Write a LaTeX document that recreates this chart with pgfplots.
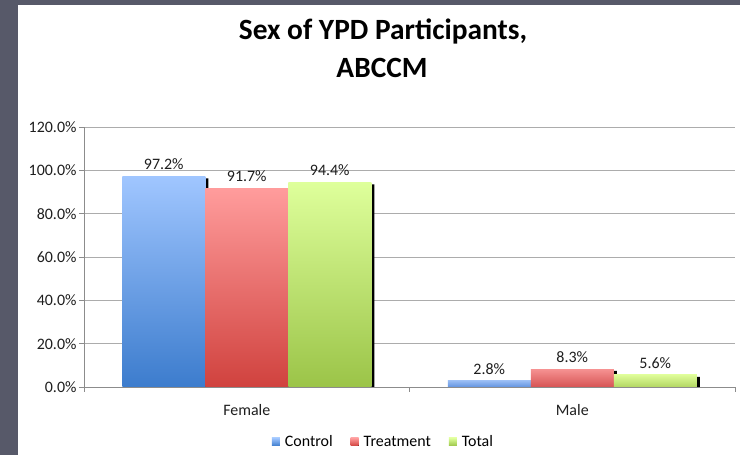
\documentclass[border=0pt]{standalone}
\usepackage{pgfplots}
\pgfplotsset{compat=1.18}
\usepackage{fontspec}
\setmainfont{Carlito}
\definecolor{bg}{RGB}{87,89,105}
\definecolor{bluetop}{RGB}{160,198,255}
\definecolor{bluebot}{RGB}{60,124,205}
\definecolor{redtop}{RGB}{255,156,156}
\definecolor{redbot}{RGB}{208,66,62}
\definecolor{greentop}{RGB}{222,255,155}
\definecolor{greenbot}{RGB}{155,196,72}
\definecolor{mbluetop}{RGB}{150,186,242}
\definecolor{mbluebot}{RGB}{98,148,224}
\definecolor{mredtop}{RGB}{246,146,146}
\definecolor{mredbot}{RGB}{214,84,84}
\definecolor{mgreentop}{RGB}{222,252,152}
\definecolor{mgreenbot}{RGB}{178,214,98}
\definecolor{gridgray}{RGB}{172,172,172}
\definecolor{axisgray}{RGB}{140,140,140}
\definecolor{txt}{RGB}{30,30,30}
\pgfplotsset{
  barlab/.style={nodes near coords={\pgfmathprintnumber[fixed,fixed zerofill,precision=1]{\pgfplotspointmeta}\%},
    every node near coord/.append style={font=\fontsize{16}{18}\selectfont, text=txt, yshift=3bp}},
}
\begin{document}
\begin{tikzpicture}[x=1bp,y=1bp]
\fill[bg] (0,0) rectangle (740,455);
\fill[white] (18,0) rectangle (740,450);
\node[font=\fontsize{29.5}{31}\selectfont\bfseries, anchor=base] at (383,415) {Sex of YPD Participants,};
\node[font=\fontsize{29.5}{31}\selectfont\bfseries, anchor=base] at (382,377) {ABCCM};
\begin{axis}[
  at={(84bp,68bp)}, anchor=south west,
  scale only axis, width=651bp, height=260bp,
  xmin=-0.5, xmax=1.5, ymin=0, ymax=120,
  ytick={0,20,...,120},
  yticklabel={\pgfmathprintnumber[fixed,fixed zerofill,precision=1]{\tick}\%},
  /pgf/number format/assume math mode=true,
  xtick={-0.5,0.5,1.5}, xticklabels={},
  extra x ticks={0,1}, extra x tick labels={Female,Male},
  extra x tick style={major tick length=0pt},
  ymajorgrids, grid style={gridgray, line width=0.8pt},
  axis x line*=bottom, axis y line*=left,
  axis line style={axisgray, line width=0.8pt},
  every tick/.style={axisgray, line width=0.8pt},
  tick align=outside, major tick length=5bp,
  ticklabel style={font=\fontsize{16}{18}\selectfont, text=txt},
  yticklabel style={xshift=1bp},
  xticklabel style={yshift=-14bp},
  ybar, bar width=83bp,
  legend style={at={(0.460,-0.2115)}, anchor=center, draw=none, fill=none,
    legend columns=3, font=\fontsize{16}{18}\selectfont,
    /tikz/every even column/.append style={column sep=16bp}},
  legend image code/.code={\fill[#1] (0bp,-4bp) rectangle (8bp,4bp); \path (0bp,0bp) -- (11bp,0bp);},
]
% shadows
\addplot[fill=black, draw=none, bar width=3bp, bar shift=-40bp, forget plot] coordinates {(0,96.3) (1,1.9)};
\addplot[fill=black, draw=none, bar width=3bp, bar shift=43bp, forget plot] coordinates {(0,90.8) (1,7.4)};
\addplot[fill=black, draw=none, bar width=3bp, bar shift=126bp, forget plot] coordinates {(0,93.5) (1,4.7)};
% Female bars
\addplot[draw=none, top color=bluetop, bottom color=bluebot, bar shift=-83bp, barlab]
  coordinates {(0,97.2)};
\addlegendentry{Control}
\addplot[draw=none, top color=redtop, bottom color=redbot, bar shift=0bp, barlab]
  coordinates {(0,91.7)};
\addlegendentry{Treatment}
\addplot[draw=none, top color=greentop, bottom color=greenbot, bar shift=83bp, barlab]
  coordinates {(0,94.4)};
\addlegendentry{Total}
% Male bars
\addplot[draw=none, top color=mbluetop, bottom color=mbluebot, bar shift=-83bp, barlab, forget plot]
  coordinates {(1,2.8)};
\addplot[draw=none, top color=mredtop, bottom color=mredbot, bar shift=0bp, barlab, forget plot]
  coordinates {(1,8.3)};
\addplot[draw=none, top color=mgreentop, bottom color=mgreenbot, bar shift=83bp, barlab, forget plot]
  coordinates {(1,5.6)};
\end{axis}
\end{tikzpicture}
\end{document}
